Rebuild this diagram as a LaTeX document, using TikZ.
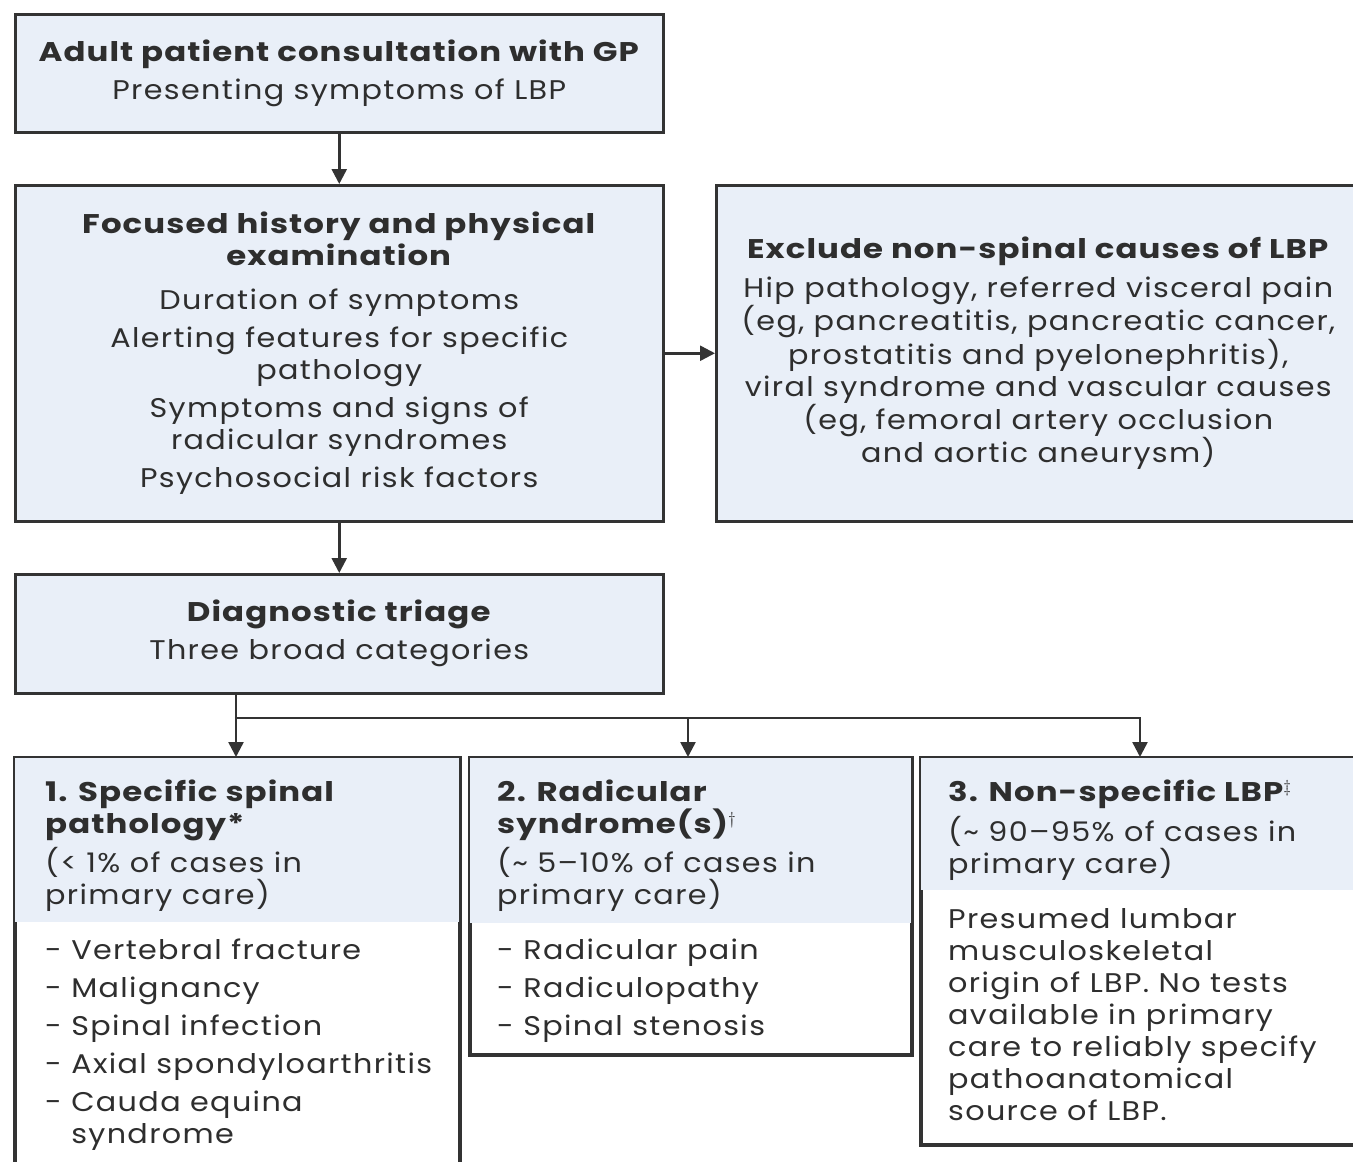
\documentclass[tikz,border=0pt]{standalone}
\usepackage{fontspec}
\setmainfont{Poppins}[FakeStretch=1.12,LetterSpace=5,BoldFeatures={FakeStretch=1.2,LetterSpace=4}]
\usetikzlibrary{arrows.meta}
\definecolor{boxfill}{HTML}{E9EFF8}
\definecolor{edge}{HTML}{333333}
\definecolor{txtc}{HTML}{2E2E2E}
\begin{document}
\begin{tikzpicture}[x=1pt,y=-1pt,
  box/.style={draw=edge,line width=2.5pt,fill=boxfill,inner sep=0pt,anchor=north west,
    text=txtc,align=center,font=\fontsize{27}{32}\selectfont},
  wbox/.style={draw=edge,line width=2.5pt,fill=white,inner sep=0pt,anchor=north west},
  ltxt/.style={text=txtc,align=left,inner sep=0pt,anchor=north west,font=\fontsize{27}{32}\selectfont},
  arr/.style={-{Triangle[length=15pt,width=15pt]},line width=2.5pt,draw=edge},
  conn/.style={line width=2.5pt,draw=edge}]
\useasboundingbox (0,0) rectangle (1353,1162);
\fill[white] (0,0) rectangle (1353,1162);

\node[box,minimum width=648pt,minimum height=118pt] (a) at (14,13)
  {\textbf{Adult patient consultation with GP}\\[6pt]Presenting symptoms of LBP};

\node[box,minimum width=648pt,minimum height=336pt] (b) at (14,184)
  {\textbf{Focused history and physical}\\\textbf{examination}\\[12pt]
   Duration of symptoms\\[6pt]
   Alerting features for specific\\pathology\\[6pt]
   Symptoms and signs of\\radicular syndromes\\[6pt]
   Psychosocial risk factors};

\node[box,minimum width=644pt,minimum height=336pt] (c) at (715,184)
  {\textbf{Exclude non-spinal causes of LBP}\\[7pt]
   Hip pathology, referred visceral pain\\
   (eg, pancreatitis, pancreatic cancer,\\
   prostatitis and pyelonephritis),\\
   viral syndrome and vascular causes\\
   (eg, femoral artery occlusion\\
   and aortic aneurysm)};

\node[box,minimum width=648pt,minimum height=119pt] (d) at (14,573)
  {\textbf{Diagnostic triage}\\[6pt]Three broad categories};

% bottom boxes
\node[wbox,minimum width=444pt,minimum height=430pt] (e1) at (14,757) {};
\fill[boxfill] ([shift={(1.25pt,-1.25pt)}]e1.north west) rectangle ([shift={(-1.25pt,0)}]e1.east |- 0,922);
\draw[draw=edge,line width=2.5pt] (e1.north west) rectangle (e1.south east);
\node[ltxt] (t1) at (45,780)
  {\textbf{1. Specific spinal}\\\textbf{pathology*}\\[5pt]
   (< 1\% of cases in\\primary care)};
\node[ltxt] (l1) at (45,939)
  {- Vertebral fracture\\[6pt]- Malignancy\\[6pt]- Spinal infection\\[6pt]- Axial spondyloarthritis\\[6pt]- Cauda equina\\\phantom{- }syndrome};

\node[wbox,minimum width=441pt,minimum height=296pt] (e2) at (469,757) {};
\fill[boxfill] ([shift={(1.25pt,-1.25pt)}]e2.north west) rectangle ([shift={(-1.25pt,0)}]e2.east |- 0,923);
\draw[draw=edge,line width=2.5pt] (e2.north west) rectangle (e2.south east);
\node[ltxt] (t2) at (497,780)
  {\textbf{2. Radicular}\\\textbf{syndrome(s)\textsuperscript{$\dagger$}}\\[5pt]
   (\textasciitilde\ 5--10\% of cases in\\primary care)};
\node[ltxt] (l2) at (497,939)
  {- Radicular pain\\[6pt]- Radiculopathy\\[6pt]- Spinal stenosis};

\node[wbox,minimum width=450pt,minimum height=386pt] (e3) at (920,757) {};
\fill[boxfill] ([shift={(1.25pt,-1.25pt)}]e3.north west) rectangle ([shift={(-1.25pt,0)}]e3.east |- 0,890);
\draw[draw=edge,line width=2.5pt] (e3.north west) rectangle (e3.south east);
\node[ltxt] (t3) at (948,780)
  {\textbf{3. Non-specific LBP\textsuperscript{$\ddagger$}}\\[6pt]
   (\textasciitilde\ 90--95\% of cases in\\primary care)};
\node[ltxt] (l3) at (948,908)
  {Presumed lumbar\\musculoskeletal\\origin of LBP. No tests\\available in primary\\care to reliably specify\\pathoanatomical\\source of LBP.};

% connectors
\draw[arr] (a.south) -- (b.north);
\draw[arr] (b.east) -- (c.west);
\draw[arr] (b.south) -- (d.north);
\coordinate (j1) at (236,718);
\coordinate (j2) at (688,718);
\coordinate (j3) at (1140,718);
\draw[conn] (d.south -| j1) -- (j1);
\draw[conn] ([xshift=-1.25pt]j1) -- ([xshift=1.25pt]j3);
\draw[arr] (j1) -- (e1.north -| j1);
\draw[arr] (j2) -- (e2.north -| j2);
\draw[arr] (j3) -- (e3.north -| j3);
\end{tikzpicture}
\end{document}
